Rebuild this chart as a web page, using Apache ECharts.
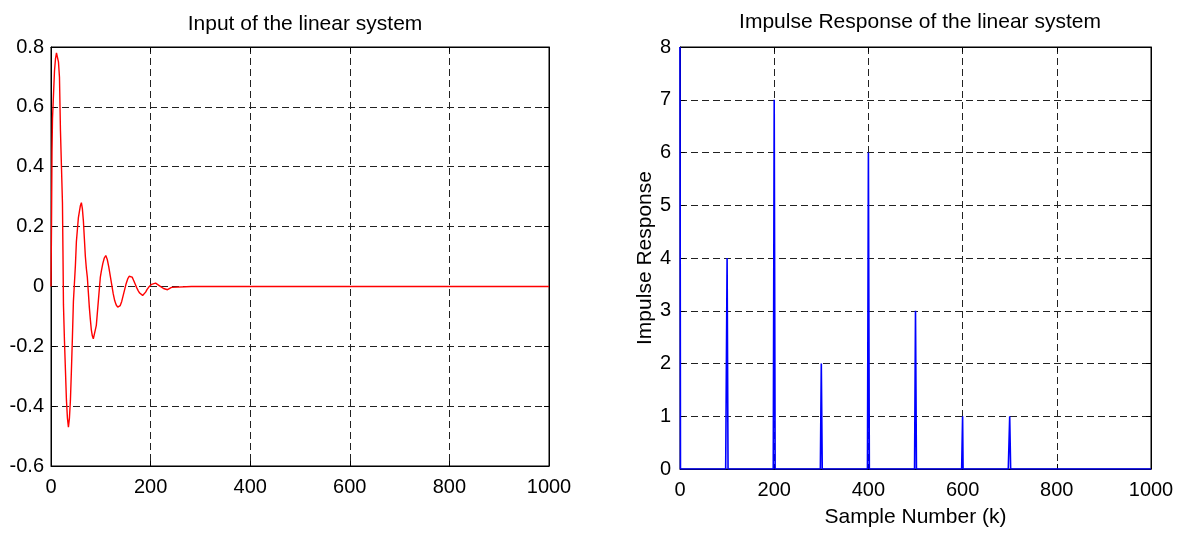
<!DOCTYPE html>
<html>
<head>
<meta charset="utf-8">
<script src="https://cdn.jsdelivr.net/npm/echarts@6/dist/echarts.min.js"></script>
<style>
html,body{margin:0;padding:0;background:#fff;}
#c{width:1185px;height:533px;}
</style>
</head>
<body>
<div id="c"></div>
<script>
// ---- Data ----
// Left: input of the linear system, sample index and value
const inputK = [0,1,2,3,5,7,9,11,13,15,17,19,21,23,24,25,27,29,31,33,35,37,39,41,43,45,47,49,51,53,55,57,59,61,63,65,67,69,71,73,75,77,79,81,83,85,87,89,91,93,95,97,99,101,104,107,110,113,116,119,122,125,128,131,134,136,139,142,145,148,151,154,157,160,163,166,169,172,175,178,181,184,187,190,193,196,199,202,206,210,214,218,222,226,230,234,238,242,246,282,285,288,1000];
const inputV = [0,0.2,0.45,0.56,0.64,0.72,0.76,0.78,0.78,0.75,0.70,0.52,0.40,0.28,0.12,-0.06,-0.18,-0.28,-0.38,-0.44,-0.47,-0.44,-0.38,-0.28,-0.17,-0.05,0.01,0.07,0.15,0.19,0.23,0.25,0.27,0.28,0.26,0.22,0.16,0.10,0.06,0.03,-0.02,-0.07,-0.11,-0.145,-0.165,-0.175,-0.178,-0.17,-0.13,-0.09,-0.05,-0.01,0.03,0.05,0.076,0.095,0.103,0.09,0.065,0.035,0.005,-0.025,-0.048,-0.062,-0.069,-0.07,-0.064,-0.05,-0.03,-0.01,0.01,0.025,0.034,0.036,0.031,0.02,0.008,-0.004,-0.014,-0.022,-0.027,-0.03,-0.027,-0.019,-0.01,-0.003,0.003,0.007,0.01,0.011,0.008,0.002,-0.003,-0.007,-0.01,-0.011,-0.008,-0.003,0,0,-0.005,0,0];

// Right: impulse response, nonzero samples
const impulseK = [0,100,101,200,201,300,301,400,401,500,501,600,700,701];
const impulseH = [8,4,2,7,3.5,2,1,6,3,3,1.5,1,1,0.5];
const nSamples = 1001;

// ---- build series data ----
const inputData = inputK.map((k,i)=>[k,inputV[i]]);
const h = new Array(nSamples).fill(0);
impulseK.forEach((k,i)=>{h[k]=impulseH[i];});
const impulseData = h.map((v,k)=>[k,v]);

const FONT = 'Liberation Sans';
const tickTxt = {color:'#000', fontFamily:FONT, fontSize:20};
const nameTxt = {color:'#000', fontFamily:FONT, fontSize:21};
const gridLine = {show:true, lineStyle:{color:'#222', type:[7,4], width:1}};
const axisLine = {show:true, onZero:false, lineStyle:{color:'#000', width:1}};
const tick = {show:true, inside:true, length:5, lineStyle:{color:'#000'}};

function xAx(gi, pos, labels){
  return {type:'value', gridIndex:gi, position:pos, min:0, max:1000, interval:200,
    axisLine:axisLine, axisTick:tick, splitLine: labels?gridLine:{show:false},
    axisLabel: labels?Object.assign({margin:11, formatter:v=>String(v)},tickTxt):{show:false}};
}

const chart = echarts.init(document.getElementById('c'), null, {renderer:'canvas'});
chart.setOption({
  animation:false,
  backgroundColor:'#fff',
  title:[
    {text:'Input of the linear system', left:300, textAlign:'center', top:9,
     textStyle:Object.assign({fontWeight:'normal'}, nameTxt)},
    {text:'Impulse Response of the linear system', left:915, textAlign:'center', top:7,
     textStyle:Object.assign({fontWeight:'normal'}, nameTxt)}
  ],
  grid:[
    {left:51, top:47, width:498, height:419, show:true, borderColor:'#000', borderWidth:1, backgroundColor:'#fff'},
    {left:680, top:47, width:471, height:425, show:true, borderColor:'#000', borderWidth:1, backgroundColor:'#fff'}
  ],
  xAxis:[
    xAx(0,'bottom',true), xAx(0,'top',false),
    Object.assign(xAx(1,'bottom',true), {name:'Sample Number (k)', nameLocation:'middle', nameGap:38,
      nameTextStyle:nameTxt}),
    xAx(1,'top',false)
  ],
  yAxis:[
    {type:'value', gridIndex:0, min:-0.6, max:0.8, interval:0.2,
     axisLine:axisLine, axisTick:tick, splitLine:gridLine,
     axisLabel:Object.assign({margin:7, formatter:v=>String(parseFloat(v.toFixed(1)))},tickTxt)},
    {type:'value', gridIndex:0, position:'right', min:-0.6, max:0.8, interval:0.2,
     axisLine:axisLine, axisTick:tick, splitLine:{show:false}, axisLabel:{show:false}},
    {type:'value', gridIndex:1, min:0, max:8, interval:1,
     axisLine:axisLine, axisTick:tick, splitLine:gridLine,
     axisLabel:Object.assign({margin:9},tickTxt),
     name:'Impulse Response', nameLocation:'middle', nameGap:24, nameRotate:90,
     nameTextStyle:nameTxt},
    {type:'value', gridIndex:1, position:'right', min:0, max:8, interval:1,
     axisLine:axisLine, axisTick:tick, splitLine:{show:false}, axisLabel:{show:false}}
  ],
  series:[
    {type:'line', xAxisIndex:0, yAxisIndex:0, data:inputData, showSymbol:false, symbol:'none',
     lineStyle:{color:'#ff0000', width:1.4}, z:5},
    {type:'line', xAxisIndex:2, yAxisIndex:2, data:impulseData, showSymbol:false, symbol:'none',
     lineStyle:{color:'#0000ff', width:1.6}, z:5}
  ]
});
</script>
</body>
</html>
